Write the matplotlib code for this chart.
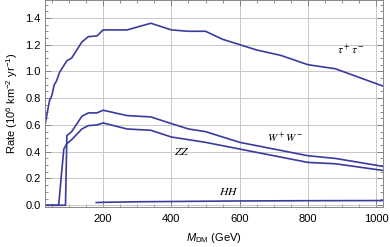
import matplotlib
matplotlib.use('Agg')
import matplotlib.pyplot as plt
from matplotlib.ticker import MultipleLocator

plt.rcParams['font.family'] = ['Liberation Sans', 'DejaVu Sans']
plt.rcParams['font.size'] = 8
plt.rcParams['mathtext.fontset'] = 'custom'
plt.rcParams['mathtext.rm'] = 'Liberation Sans'
plt.rcParams['mathtext.it'] = 'Liberation Sans:italic'

# tau+ tau- channel
tau_x = [30, 43, 50, 57, 64, 72, 94, 108, 138, 157, 182, 200, 270, 340, 400,
         450, 500, 550, 600, 650, 720, 800, 880, 1020]
tau_y = [0.60, 0.78, 0.82, 0.90, 0.93, 0.99, 1.08, 1.10, 1.22, 1.26, 1.265, 1.31,
         1.31, 1.36, 1.31, 1.30, 1.30, 1.24, 1.20, 1.16, 1.12, 1.05, 1.02, 0.89]

# W+ W-
ww_x = [30, 90, 94, 108, 138, 157, 182, 200, 270, 340, 400, 450, 500, 600,
        700, 800, 880, 1020]
ww_y = [0.0, 0.0, 0.52, 0.55, 0.665, 0.69, 0.69, 0.71, 0.67, 0.66, 0.61, 0.57,
        0.55, 0.47, 0.42, 0.37, 0.35, 0.29]

# ZZ
zz_x = [30, 70, 85, 94, 108, 138, 157, 182, 200, 270, 340, 400, 450, 500, 600,
        700, 800, 880, 1020]
zz_y = [0.0, 0.0, 0.42, 0.46, 0.49, 0.57, 0.595, 0.60, 0.615, 0.57, 0.56, 0.51,
        0.49, 0.47, 0.42, 0.37, 0.32, 0.31, 0.26]

# HH
hh_x = [180, 200, 300, 400, 600, 800, 1020]
hh_y = [0.020, 0.022, 0.026, 0.028, 0.032, 0.034, 0.035]

col = '#3b3b9e'

fig = plt.figure(figsize=(3.9, 2.47), dpi=100)
ax = fig.add_axes([0.1154, 0.162, 0.867, 0.836])

for xs, ys in [(tau_x, tau_y), (ww_x, ww_y), (zz_x, zz_y), (hh_x, hh_y)]:
    ax.plot(xs, ys, color=col, lw=1.2)

# curve labels
ax.text(925, 1.16, r'$\tau^+\tau^-$', math_fontfamily='stix', fontsize=8.5,
        ha='center', va='center')
ax.text(733, 0.50, r'$W^+W^-$', math_fontfamily='stix', fontsize=8,
        ha='center', va='center')
ax.text(431, 0.40, r'$ZZ$', math_fontfamily='stix', fontsize=8.5,
        ha='center', va='center')
ax.text(567, 0.10, r'$HH$', math_fontfamily='stix', fontsize=8.5,
        ha='center', va='center')

ax.set_xlim(30, 1020)
ax.set_ylim(-0.013, 1.53)
ax.xaxis.set_major_locator(MultipleLocator(200))
ax.xaxis.set_minor_locator(MultipleLocator(50))
ax.yaxis.set_major_locator(MultipleLocator(0.2))
ax.yaxis.set_minor_locator(MultipleLocator(0.05))
ax.yaxis.set_major_formatter(lambda v, p: '%.1f' % v)

ax.grid(True, which='major', color='#c8c8c8', lw=0.7)
ax.set_axisbelow(True)
ax.tick_params(which='both', direction='in', top=True, right=True,
               color='#777777', width=0.6)
ax.tick_params(which='major', length=4, pad=3)
ax.tick_params(axis='x', which='major', pad=5)
ax.tick_params(which='minor', length=2)
for s in ax.spines.values():
    s.set_color('#888888')
    s.set_linewidth(0.7)

ax.set_xlabel(r'$M_{\rm DM}$ (GeV)', labelpad=5)
ax.set_ylabel(r'Rate (10$^6$ km$^{-2}$ yr$^{-1}$)', labelpad=4)

fig.savefig('out.png', dpi=100)
